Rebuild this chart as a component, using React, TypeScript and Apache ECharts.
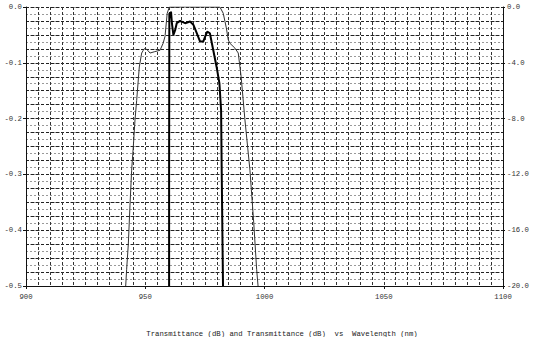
import React, { useEffect, useRef } from "react";
import * as echarts from "echarts";

const xTicks = [900, 950, 1000, 1050, 1100];
const leftTicks = [0.0, -0.1, -0.2, -0.3, -0.4, -0.5];
const rightTicks = [0.0, -4.0, -8.0, -12.0, -16.0, -20.0];

// Thin curve (right axis, dB)
const thinWl = [941.8, 942.2, 942.9, 943.6, 944.3, 945.0, 945.7, 946.4, 947.5, 948.5, 949.2, 949.9, 951.0, 952.0, 954.0, 956.2, 957.5, 958.3, 959.2, 960.1, 965.0, 970.0, 975.0, 981.3, 982.7, 984.0, 984.8, 985.5, 987.6, 989.0, 990.2, 991.8, 993.9, 995.5, 996.7, 997.3];
const thinDb = [-20.0, -18.8, -17.0, -14.2, -11.7, -10.0, -8.1, -6.7, -4.3, -3.3, -3.1, -2.95, -3.1, -3.3, -3.2, -3.1, -2.6, -2.1, -0.45, 0.0, 0.0, 0.0, 0.0, 0.0, -0.45, -1.5, -2.35, -2.6, -2.95, -3.3, -5.0, -8.1, -11.7, -15.5, -18.8, -20.0];

// Thick curve (left axis, dB)
const thickWl = [960.0, 960.0, 960.1, 960.4, 960.6, 960.8, 961.2, 961.8, 962.5, 963.2, 964.6, 966.7, 968.8, 970.2, 971.6, 973.0, 974.3, 975.2, 976.0, 977.1, 978.5, 979.9, 981.1, 981.8, 982.1, 982.6];
const thickDb = [-0.5, -0.3, -0.012, -0.01, -0.02, -0.008, -0.03, -0.05, -0.042, -0.029, -0.025, -0.029, -0.026, -0.032, -0.047, -0.062, -0.062, -0.052, -0.044, -0.047, -0.077, -0.107, -0.137, -0.185, -0.31, -0.5];

const titleText = "Transmittance (dB) and Transmittance (dB)  vs  Wavelength (nm)";

const FONT = "Liberation Mono";

export default function App() {
  const ref = useRef<HTMLDivElement>(null);
  useEffect(() => {
    if (!ref.current) return;
    const chart = echarts.init(ref.current, null, { renderer: "svg" });
    const labelStyle = { fontFamily: FONT, fontSize: 7.3, color: "#333" };
    const gridAxisBase = {
      axisLine: { show: false },
      axisTick: { show: false },
      axisLabel: { show: false },
    };
    chart.setOption({
      animation: false,
      backgroundColor: "#fff",
      title: {
        text: titleText,
        left: 277,
        top: 325,
        textAlign: "center",
        textStyle: { fontFamily: FONT, fontSize: 7.3, fontWeight: "normal", color: "#222" },
      },
      grid: { left: 26, right: 50, top: 7, bottom: 51, containLabel: false },
      xAxis: [
        {
          type: "value",
          min: xTicks[0],
          max: xTicks[xTicks.length - 1],
          interval: 50,
          axisLine: { show: true, onZero: false, lineStyle: { color: "#111", width: 1 } },
          axisTick: { show: true, length: 3, lineStyle: { color: "#111" } },
          axisLabel: { ...labelStyle, margin: 7, formatter: (v: number) => String(v) },
          splitLine: { show: false },
          z: 10,
        },
        {
          type: "value",
          min: 900,
          max: 1100,
          interval: 5,
          ...gridAxisBase,
          splitLine: { show: true, lineStyle: { color: "#333", width: 1, type: [3, 2] } },
        },
      ],
      yAxis: [
        {
          type: "value",
          min: -0.5,
          max: 0,
          interval: 0.1,
          axisLine: { show: true, onZero: false, lineStyle: { color: "#111", width: 1 } },
          axisTick: { show: true, length: 3, lineStyle: { color: "#111" } },
          axisLabel: { ...labelStyle, margin: 4, formatter: (v: number) => v.toFixed(1) },
          splitLine: { show: false },
          z: 10,
        },
        {
          type: "value",
          position: "right",
          min: -20,
          max: 0,
          interval: 4,
          axisLine: { show: true, onZero: false, lineStyle: { color: "#111", width: 1 } },
          axisTick: { show: true, length: 2, lineStyle: { color: "#111" } },
          axisLabel: { ...labelStyle, margin: 4, formatter: (v: number) => v.toFixed(1) },
          splitLine: { show: false },
          z: 10,
        },
        {
          type: "value",
          min: -0.5,
          max: 0,
          interval: 0.0125,
          ...gridAxisBase,
          splitLine: { show: true, lineStyle: { color: "#999", width: 1, type: [2, 2] } },
        },
        {
          type: "value",
          min: -0.5,
          max: 0,
          interval: 0.025,
          ...gridAxisBase,
          splitLine: { show: true, lineStyle: { color: "#222", width: 1, type: [3, 2] } },
        },
      ],
      series: [
        {
          type: "line",
          xAxisIndex: 0,
          yAxisIndex: 1,
          data: thinWl.map((w, i) => [w, thinDb[i]]),
          showSymbol: false,
          lineStyle: { color: "#333", width: 1 },
          z: 5,
        },
        {
          type: "line",
          xAxisIndex: 0,
          yAxisIndex: 0,
          data: thickWl.map((w, i) => [w, thickDb[i]]),
          showSymbol: false,
          lineStyle: { color: "#000", width: 2 },
          z: 6,
        },
      ],
    });
    return () => chart.dispose();
  }, []);
  return <div ref={ref} style={{ width: 553, height: 337, position: "absolute", left: 0, top: 0 }} />;
}
